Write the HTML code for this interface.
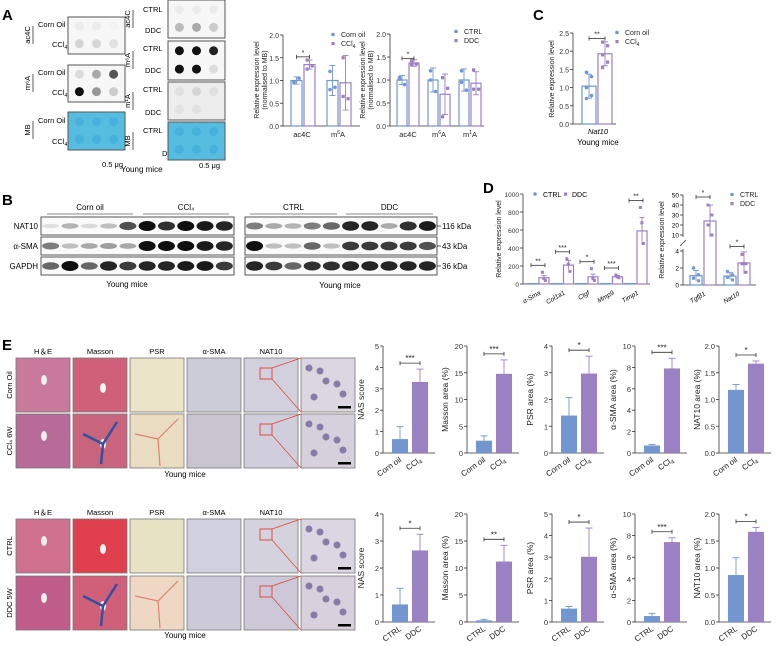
<!DOCTYPE html>
<html><head><meta charset="utf-8"><style>
html,body{margin:0;padding:0;background:#fff;}
svg{display:block;font-family:"Liberation Sans",Arial,sans-serif;}
</style></head><body>
<svg id="fig" width="778" height="646" viewBox="0 0 778 646" xmlns="http://www.w3.org/2000/svg">
<g id="static">
<text x="2" y="20" font-size="15" font-weight="bold">A</text>
<text x="2" y="205" font-size="15" font-weight="bold">B</text>
<text x="533" y="20" font-size="15" font-weight="bold">C</text>
<text x="483" y="193" font-size="15" font-weight="bold">D</text>
<text x="2" y="350" font-size="15" font-weight="bold">E</text>
</g>
<g id="blots"></g>
<g id="wb"></g>
<g id="histo"></g>
<g id="charts"></g>
</svg>
<script>
// ===== Chart data =====
const a1Cats = ["ac4C", "m6A"];
const a1Ctrl = [1.0, 1.0];
const a1CtrlErr = [0.08, 0.33];
const a1Trt = [1.35, 0.95];
const a1TrtErr = [0.1, 0.6];
const a1CtrlPts = [[0.97, 1.05, 0.95], [1.2, 0.85, 0.8]];
const a1TrtPts = [[1.45, 1.32, 1.25], [1.5, 0.6, 0.65]];
const a2Cats = ["ac4C", "m6A", "m1A"];
const a2Ctrl = [1.0, 1.0, 1.0];
const a2CtrlErr = [0.1, 0.26, 0.24];
const a2Trt = [1.37, 0.69, 0.93];
const a2TrtErr = [0.07, 0.44, 0.25];
const a2CtrlPts = [[1.05, 0.9, 1.02], [1.2, 0.75, 1.0], [1.2, 0.78, 0.95]];
const a2TrtPts = [[1.42, 1.35, 1.33], [1.05, 0.82, 0.2], [1.22, 0.8, 0.8]];
const cCtrl = [1.04];
const cCtrlErr = [0.33];
const cTrt = [1.93];
const cTrtErr = [0.33];
const cCtrlPts = [[1.42, 1.3, 1.0, 0.78, 0.7]];
const cTrtPts = [[2.25, 2.15, 1.9, 1.7, 1.55]];
const d1Cats = ["α-Sma", "Col1a1", "Ctgf", "Mmp9", "Timp1"];
const d1Ctrl = [5, 5, 5, 5, 5];
const d1Trt = [70, 210, 80, 80, 590];
const d1TrtErr = [25, 50, 30, 15, 150];
const d1TrtPts = [[130, 60, 40], [280, 220, 140], [170, 60, 40], [100, 80, 70], [850, 680, 450]];
const d1Stars = ["**", "***", "*", "***", "**"];
const d2Cats = ["Tgfβ1", "Nat10"];
const d2Ctrl = [1.1, 1.05];
const d2CtrlErr = [0.6, 0.4];
const d2Trt = [24, 2.6];
const d2TrtErr = [16, 1.3];
const d2CtrlPts = [[2.0, 1.2, 0.8, 0.5], [1.6, 1.2, 0.9, 0.6]];
const d2TrtPts = [[40, 30, 20, 10], [3.6, 2.5, 2.5, 1.5]];
const d2Stars = ["*", "*"];
const eTopCats = ["Corn oil", "CCl4"];
const eTopTitles = ["NAS score", "Masson area (%)", "PSR area (%)", "α-SMA area (%)", "NAT10 area (%)"];
const eTopCtrl = [0.65, 2.3, 1.4, 0.7, 1.18];
const eTopCtrlErr = [0.58, 0.9, 0.67, 0.1, 0.1];
const eTopTrt = [3.32, 14.8, 2.97, 7.9, 1.67];
const eTopTrtErr = [0.6, 2.6, 0.65, 0.95, 0.05];
const eTopMax = [5, 20, 4, 10, 2];
const eTopStep = [1, 5, 1, 2, 0.5];
const eTopStars = ["***", "***", "*", "***", "*"];
const eBotCats = ["CTRL", "DDC"];
const eBotCtrl = [0.65, 0.3, 0.62, 0.55, 0.87];
const eBotCtrlErr = [0.6, 0.2, 0.1, 0.25, 0.32];
const eBotTrt = [2.65, 11.2, 3.02, 7.4, 1.67];
const eBotTrtErr = [0.6, 3.0, 1.33, 0.4, 0.08];
const eBotMax = [4, 20, 5, 10, 2];
const eBotStep = [1, 5, 1, 2, 0.5];
const eBotStars = ["*", "**", "*", "***", "*"];

const BLUE = "#7196d0", PURPLE = "#9c80c4", AX = "#333";
const NS = "http://www.w3.org/2000/svg";
function mk(parent, tag, attrs, text) {
  const e = document.createElementNS(NS, tag);
  for (const k in attrs) e.setAttribute(k, attrs[k]);
  if (text !== undefined) e.textContent = text;
  parent.appendChild(e);
  return e;
}
function fmt(v, step) { return step < 1 ? v.toFixed(1) : String(v); }
const charts = document.getElementById('charts');

function yAxis(g, x, y0, y1, max, step, fs) {
  const sc = v => y0 - (v / max) * (y0 - y1);
  let l = mk(g, 'line', {x1: x, x2: x, y1: y0, y2: y1, stroke: AX, 'stroke-width': 0.8});
  
  
  for (let v = 0; v <= max + 1e-9; v += step) {
    mk(g, 'line', {x1: x - 3, x2: x, y1: sc(v), y2: sc(v), stroke: AX, 'stroke-width': 0.8});
    let t = mk(g, 'text', {x: x - 4, y: sc(v) + 3, 'font-size': fs, 'text-anchor': 'end', fill: '#333'}, fmt(Math.round(v * 100) / 100, step));
    
    
  }
  return sc;
}
function errBar(g, cx, yv, ye, col, hw) {
  mk(g, 'line', {x1: cx, x2: cx, y1: yv, y2: ye, stroke: col, 'stroke-width': 0.9});
  mk(g, 'line', {x1: cx - hw, x2: cx + hw, y1: ye, y2: ye, stroke: col, 'stroke-width': 0.9});
}
function sig(g, x1, x2, y, s, fs) {
  mk(g, 'line', {x1: x1, x2: x2, y1: y, y2: y, stroke: AX, 'stroke-width': 0.8});
  mk(g, 'line', {x1: x1, x2: x1, y1: y - 2, y2: y + 2, stroke: AX, 'stroke-width': 0.8});
  mk(g, 'line', {x1: x2, x2: x2, y1: y - 2, y2: y + 2, stroke: AX, 'stroke-width': 0.8});
  let t = mk(g, 'text', {x: (x1 + x2) / 2, y: y - 2, 'font-size': fs, 'text-anchor': 'middle', fill: '#222'}, s);
  
  
}

function eChart(x0, y0, y1, title, cats, c, ce, t, te, max, step, star, idx, row) {
  const g = mk(charts, 'g', {});
  
  
  const sc = yAxis(g, x0, y0, y1, max, step, 7.5);
  mk(g, 'line', {x1: x0, x2: x0 + 52, y1: y0, y2: y0, stroke: AX, 'stroke-width': 0.8});
  const bx = [x0 + 9, x0 + 29], w = 16;
  const vals = [c, t], errs = [ce, te], cols = [BLUE, PURPLE];
  for (let i = 0; i < 2; i++) {
    let r = mk(g, 'rect', {x: bx[i], y: sc(vals[i]), width: w, height: y0 - sc(vals[i]), fill: cols[i]});
    
    
    errBar(g, bx[i] + w / 2, sc(vals[i]), sc(vals[i] + errs[i]), cols[i], 3.5);
    let lx = bx[i] + w / 2 + 2, ly = y0 + 8;
    let tl = mk(g, 'text', {x: lx, y: ly, 'font-size': 8, 'text-anchor': 'end', transform: 'rotate(-35 ' + lx + ' ' + ly + ')', fill: '#222'});
    
    
    if (cats[i] === 'CCl4') { tl.textContent = 'CCl'; mk(tl, 'tspan', {'font-size': 6, dy: 2}, '4'); }
    else tl.textContent = cats[i];
  }
  const top = sc(t + te);
  sig(g, bx[0] + 8, bx[1] + 8, top - 6, star, 8);
  const tx = x0 - 19, ty = (y0 + y1) / 2;
  let yt = mk(g, 'text', {x: tx, y: ty, 'font-size': 8.5, 'text-anchor': 'middle', transform: 'rotate(-90 ' + tx + ' ' + ty + ')', fill: '#222'}, title);
  
  
}
const eAx = [383, 467, 552, 635, 719];
for (let i = 0; i < 5; i++) {
  eChart(eAx[i], 453, 346, eTopTitles[i], eTopCats, eTopCtrl[i], eTopCtrlErr[i], eTopTrt[i], eTopTrtErr[i], eTopMax[i], eTopStep[i], eTopStars[i], i, 'top');
  eChart(eAx[i], 622, 514, eTopTitles[i], eBotCats, eBotCtrl[i], eBotCtrlErr[i], eBotTrt[i], eBotTrtErr[i], eBotMax[i], eBotStep[i], eBotStars[i], i, 'bottom');
}

function outlineChart(name, x0, y0, y1, max, step, ctrl, ce, trt, te, cp, tp, bw, gsp, off, xEnd, starInfo) {
  const g = mk(charts, 'g', {});
  
  
  const sc = yAxis(g, x0, y0, y1, max, step, 7);
  mk(g, 'line', {x1: x0, x2: xEnd, y1: y0, y2: y0, stroke: AX, 'stroke-width': 0.8});
  for (let i = 0; i < ctrl.length; i++) {
    const bx = x0 + off + i * gsp;
    const sets = [[bx, ctrl[i], ce[i], cp[i], BLUE, 'control'], [bx + bw + 2, trt[i], te[i], tp[i], PURPLE, 'treatment']];
    sets.forEach(s => {
      let r = mk(g, 'rect', {x: s[0], y: sc(s[1]), width: bw, height: y0 - sc(s[1]), fill: 'none', stroke: s[4], 'stroke-width': 1.2});
      
      
      const cx = s[0] + bw / 2;
      errBar(g, cx, sc(s[1] - s[2]), sc(s[1] + s[2]), s[4], 3);
      mk(g, 'line', {x1: cx - 3, x2: cx + 3, y1: sc(s[1] - s[2]), y2: sc(s[1] - s[2]), stroke: s[4], 'stroke-width': 0.9});
      s[3].forEach((p, k) => {
        let d = s[5] === 'control'
          ? mk(g, 'circle', {cx: cx + (k % 2 ? 2.5 : -2.5), cy: sc(p), r: 1.8, fill: s[4]})
          : mk(g, 'rect', {x: cx + (k % 2 ? 1 : -4), y: sc(p) - 1.6, width: 3.2, height: 3.2, fill: s[4]});
        
        
      });
    });
  }
  if (starInfo) sig(g, x0 + off + bw / 2, x0 + off + bw * 1.5 + 2, sc(starInfo[1]), starInfo[0], 7);
  return {g, sc};
}
function legend(g, x, y, l1, l2, sub) {
  let c = mk(g, 'circle', {cx: x, cy: y - 2.5, r: 1.8, fill: BLUE});
  
  
  let t1 = mk(g, 'text', {x: x + 8, y: y, 'font-size': 7, fill: '#222'}, l1);
  
  
  let r = mk(g, 'rect', {x: x - 1.6, y: y + 5, width: 3.2, height: 3.2, fill: PURPLE});
  
  
  let t2 = mk(g, 'text', {x: x + 8, y: y + 9, 'font-size': 7, fill: '#222'}, l2);
  
  
  if (sub) mk(t2, 'tspan', {'font-size': 5, dy: 2}, '4');
}
function yTitle(g, x, y, lines, fs) {
  let t = mk(g, 'text', {x: x, y: y, 'font-size': fs, 'text-anchor': 'middle', transform: 'rotate(-90 ' + x + ' ' + y + ')', fill: '#222'});
  
  
  lines.forEach((ln, i) => mk(t, 'tspan', {x: x, dy: i === 0 ? 0 : fs + 1}, ln));
}
function modLabel(g, x, y, base, sup) {
  let t = mk(g, 'text', {x: x, y: y, 'font-size': 7.5, 'text-anchor': 'middle', fill: '#222'});
  
  
  if (!sup) { t.textContent = base; return; }
  mk(t, 'tspan', {}, 'm');
  mk(t, 'tspan', {'font-size': 5, dy: -3}, sup);
  mk(t, 'tspan', {dy: 3}, 'A');
}
let A1 = outlineChart('a1-chart', 283, 126, 35, 2, 0.5, a1Ctrl, a1CtrlErr, a1Trt, a1TrtErr, a1CtrlPts, a1TrtPts, 11, 36, 8, 360, ['*', 1.52]);
legend(A1.g, 333, 37, 'Corn oil', 'CCl', true);
yTitle(A1.g, 259, 80, ['Relative expression level', '(normalised to MB)'], 7);
modLabel(A1.g, 302, 137, 'ac4C'); modLabel(A1.g, 338, 137, 'm', '6');

let A2 = outlineChart('a2-chart', 390, 126, 34, 2, 0.5, a2Ctrl, a2CtrlErr, a2Trt, a2TrtErr, a2CtrlPts, a2TrtPts, 10, 31, 7, 484, ['*', 1.47]);
legend(A2.g, 456, 34, 'CTRL', 'DDC', false);
yTitle(A2.g, 365, 80, ['Relative expression level', '(normalised to MB)'], 7);
modLabel(A2.g, 408, 137, 'ac4C'); modLabel(A2.g, 439, 137, 'm', '6'); modLabel(A2.g, 470, 137, 'm', '1');

let C = outlineChart('c-chart', 573, 124, 33, 2.5, 0.5, cCtrl, cCtrlErr, cTrt, cTrtErr, cCtrlPts, cTrtPts, 14, 30, 9, 616, ['**', 2.35]);
legend(C.g, 617, 35, 'Corn oil', 'CCl', true);
yTitle(C.g, 554, 79, ['Relative expression level'], 7);
mk(C.g, 'text', {x: 598, y: 134, 'font-size': 7.5, 'text-anchor': 'middle', 'font-style': 'italic'}, 'Nat10');
mk(C.g, 'text', {x: 598, y: 145, 'font-size': 8, 'text-anchor': 'middle'}, 'Young mice');

(function(){
  const g = mk(charts, 'g', {});
  
  
  const x0 = 523, y0 = 284, y1 = 194;
  const sc = yAxis(g, x0, y0, y1, 1000, 200, 6.5);
  mk(g, 'line', {x1: x0, x2: 650, y1: y0, y2: y0, stroke: AX, 'stroke-width': 0.8});
  for (let i = 0; i < d1Cats.length; i++) {
    const bx = x0 + 4 + i * 24.5;
    let r1 = mk(g, 'rect', {x: bx, y: sc(d1Ctrl[i]), width: 10, height: y0 - sc(d1Ctrl[i]), fill: 'none', stroke: BLUE, 'stroke-width': 1.2});
    
    
    const px = bx + 12;
    let r2 = mk(g, 'rect', {x: px, y: sc(d1Trt[i]), width: 10, height: y0 - sc(d1Trt[i]), fill: 'none', stroke: PURPLE, 'stroke-width': 1.2});
    
    
    errBar(g, px + 5, sc(d1Trt[i] - d1TrtErr[i]), sc(d1Trt[i] + d1TrtErr[i]), PURPLE, 2.5);
    d1TrtPts[i].forEach((p, k) => { let d = mk(g, 'rect', {x: px + 3.4 + (k - 1) * 1.5, y: sc(p) - 1.5, width: 3, height: 3, fill: PURPLE});   });
    sig(g, bx + 4, px + 6, sc(Math.max(...d1TrtPts[i])) - 7, d1Stars[i], 7);
    let lx = bx + 14, ly = y0 + 10;
    let t = mk(g, 'text', {x: lx, y: ly, 'font-size': 6.5, 'font-style': 'italic', 'text-anchor': 'end', transform: 'rotate(-30 ' + lx + ' ' + ly + ')'}, d1Cats[i]);
    
    
  }
  let c = mk(g, 'circle', {cx: 535, cy: 194, r: 1.8, fill: BLUE});  
  let t1 = mk(g, 'text', {x: 543, y: 197, 'font-size': 7}, 'CTRL');  
  let r = mk(g, 'rect', {x: 564, y: 192.5, width: 3.2, height: 3.2, fill: PURPLE});  
  let t2 = mk(g, 'text', {x: 572, y: 197, 'font-size': 7}, 'DDC');  
  yTitle(g, 501, 239, ['Relative expression level'], 7);
})();

(function(){
  const g = mk(charts, 'g', {});
  
  
  const x0 = 683, y0 = 285;
  const sc = v => v <= 4 ? y0 - v / 4 * (y0 - 251) : 235 - (v - 10) / 40 * (235 - 195);
  mk(g, 'line', {x1: x0, x2: x0, y1: y0, y2: 249, stroke: AX, 'stroke-width': 0.8});
  mk(g, 'line', {x1: x0, x2: x0, y1: 237, y2: 195, stroke: AX, 'stroke-width': 0.8});
  mk(g, 'line', {x1: x0 - 3, x2: x0 + 3, y1: 246, y2: 240, stroke: AX, 'stroke-width': 0.8});
  [0, 2, 4, 10, 20, 30, 40, 50].forEach(v => {
    mk(g, 'line', {x1: x0 - 3, x2: x0, y1: sc(v), y2: sc(v), stroke: AX, 'stroke-width': 0.8});
    let t = mk(g, 'text', {x: x0 - 4, y: sc(v) + 2.5, 'font-size': 6.5, 'text-anchor': 'end'}, String(v));
    
    
  });
  mk(g, 'line', {x1: x0, x2: 756, y1: y0, y2: y0, stroke: AX, 'stroke-width': 0.8});
  for (let i = 0; i < 2; i++) {
    const bx = x0 + 7 + i * 34;
    let r1 = mk(g, 'rect', {x: bx, y: sc(d2Ctrl[i]), width: 12, height: y0 - sc(d2Ctrl[i]), fill: 'none', stroke: BLUE, 'stroke-width': 1.2});
    
    
    errBar(g, bx + 6, sc(d2Ctrl[i] - d2CtrlErr[i]), sc(d2Ctrl[i] + d2CtrlErr[i]), BLUE, 3);
    d2CtrlPts[i].forEach((p, k) => { let d = mk(g, 'circle', {cx: bx + 6 + (k % 2 ? 2.5 : -2.5), cy: sc(p), r: 1.7, fill: BLUE});   });
    const px = bx + 14;
    let r2 = mk(g, 'rect', {x: px, y: sc(d2Trt[i]), width: 12, height: y0 - sc(d2Trt[i]), fill: 'none', stroke: PURPLE, 'stroke-width': 1.2});
    
    
    errBar(g, px + 6, sc(Math.max(d2Trt[i] - d2TrtErr[i], 0)), sc(d2Trt[i] + d2TrtErr[i]), PURPLE, 3);
    d2TrtPts[i].forEach((p, k) => { let d = mk(g, 'rect', {x: px + 4.5 + (k % 2 ? 2 : -2), y: sc(p) - 1.5, width: 3, height: 3, fill: PURPLE});   });
    sig(g, bx + 6, px + 6, sc(Math.max(...d2TrtPts[i])) - 8, d2Stars[i], 7);
    let lx = bx + 16, ly = y0 + 10;
    let t = mk(g, 'text', {x: lx, y: ly, 'font-size': 6.5, 'font-style': 'italic', 'text-anchor': 'end', transform: 'rotate(-30 ' + lx + ' ' + ly + ')'}, d2Cats[i]);
    
    
  }
  legend(g, 732, 197, 'CTRL', 'DDC', false);
  yTitle(g, 664, 240, ['Relative expression level'], 7);
})();

(function(){
  const g = document.getElementById('blots');
  function box(x, y, w, h, bg, dots, name) {
    let b = mk(g, 'rect', {x: x, y: y, width: w, height: h, fill: bg, stroke: '#555', 'stroke-width': 1});
    
    
    const xs = [x + w * 0.2, x + w * 0.5, x + w * 0.8], ys = [y + h * 0.25, y + h * 0.72];
    dots.forEach((row, r) => row.forEach((c, k) => { if (c) mk(g, 'circle', {cx: xs[k], cy: ys[r], r: 4.5, fill: c}); }));
  }
  const cyan = '#56bde0', cdot = '#48b0dc';
  box(68, 17, 57, 37, '#f7f7f7', [['#ececec','#ececec','#f2f2f2'],['#d6d6d6','#d6d6d6','#e2e2e2']], 'blot-ac4c-ccl4');
  box(68, 65, 57, 37, '#f7f7f7', [['#dcdcdc','#aaa','#555'],['#111','#999','#ccc']], 'blot-m6a-ccl4');
  box(68, 112, 57, 38, cyan, [[cdot,cdot,cdot],[cdot,cdot,cdot]], 'blot-mb-ccl4');
  box(168, 0, 57, 38, '#f7f7f7', [['#ececec','#ececec','#ececec'],['#bbb','#aaa','#ccc']], 'blot-ac4c-ddc');
  box(168, 41, 57, 39, '#f7f7f7', [['#111','#111','#222'],['#111','#111','#ddd']], 'blot-m6a-ddc');
  box(168, 82, 57, 38, '#ededed', [['#e0e0e0','#d4d4d4','#e0e0e0'],['#e2e2e2','#e2e2e2','']], 'blot-m1a-ddc');
  box(168, 122, 57, 38, cyan, [[cdot,cdot,cdot],[cdot,cdot,cdot]], 'blot-mb-ddc');
  const lab = [[38,27,'Corn Oil'],[52,47,'CCl'],[38,75,'Corn Oil'],[52,95,'CCl'],[38,123,'Corn Oil'],[52,144,'CCl'],
    [143,12,'CTRL'],[145,33,'DDC'],[143,51,'CTRL'],[145,73,'DDC'],[143,92,'CTRL'],[145,115,'DDC'],[143,133,'CTRL'],[162,156,'D']];
  lab.forEach(l => { let t = mk(g, 'text', {x: l[0], y: l[1], 'font-size': 7.5}, l[2]);   if (l[2]==='CCl') mk(t,'tspan',{'font-size':5,dy:2},'4'); });
  const side = [[30,35,'ac4C'],[30,83,'m⁶A'],[30,130,'MB'],[130,19,'ac4C'],[130,60,'m⁶A'],[130,101,'m¹A'],[130,141,'MB']];
  side.forEach(s => { let t = mk(g, 'text', {x: s[0], y: s[1], 'font-size': 7.5, 'text-anchor': 'middle', transform: 'rotate(-90 ' + s[0] + ' ' + s[1] + ')'}, s[2]);   mk(g,'line',{x1:s[0]+3,x2:s[0]+3,y1:s[1]-9,y2:s[1]+9,stroke:'#333','stroke-width':0.8}); });
  mk(g, 'text', {x: 102, y: 167, 'font-size': 7.5}, '0.5 μg');
  mk(g, 'text', {x: 199, y: 168, 'font-size': 7.5}, '0.5 μg');
  mk(g, 'text', {x: 121, y: 172, 'font-size': 8}, 'Young mice');
})();

(function(){
  const g = document.getElementById('wb');
  const rows = [217, 237, 257], rh = 18;
  const left = [[0.05,0.25,0.08,0.2,0.7,1,0.85,1,0.95,0.9],[0.5,0.2,0.3,0.35,0.3,1,1,1,0.95,0.9],[0.6,1,0.6,0.9,0.8,0.9,0.9,0.95,0.95,0.8]];
  const right = [[0.5,0.3,0.25,0.5,0.6,0.9,0.9,0.3,0.85,0.95],[1,0.2,0.2,0.6,0.2,0.8,0.8,0.8,0.8,0.7],[0.9,0.8,0.6,0.85,0.85,0.9,0.9,0.9,0.9,0.9]];
  function blot(x0, w, data, name) {
    data.forEach((row, r) => {
      let b = mk(g, 'rect', {x: x0, y: rows[r], width: w, height: rh, fill: '#fafafa', stroke: '#444', 'stroke-width': 0.9});
      
      
      row.forEach((v, k) => {
        const cx = x0 + w * (k + 0.5) / 10;
        const c = Math.round(235 - v * 220);
        mk(g, 'ellipse', {cx: cx, cy: rows[r] + rh / 2, rx: 8.5, ry: 2 + v * 3, fill: 'rgb(' + c + ',' + c + ',' + c + ')'});
      });
    });
  }
  blot(41, 193, left, 'wb-left');
  blot(245, 192, right, 'wb-right');
  [['NAT10',226],['α-SMA',246],['GAPDH',266]].forEach(l => { let t = mk(g,'text',{x:38,y:l[1]+3,'font-size':8,'text-anchor':'end'},l[0]);   });
  [['116 kDa',226],['43 kDa',246],['36 kDa',266]].forEach(l => { mk(g,'line',{x1:437,x2:441,y1:l[1],y2:l[1],stroke:'#333','stroke-width':0.8}); let t = mk(g,'text',{x:442,y:l[1]+3,'font-size':8},l[0]);   });
  [[47,133,'Corn oil'],[143,229,'CCl₄'],[250,337,'CTRL'],[346,433,'DDC']].forEach(s => { mk(g,'line',{x1:s[0],x2:s[1],y1:214,y2:214,stroke:'#888','stroke-width':1}); let t = mk(g,'text',{x:(s[0]+s[1])/2,y:210,'font-size':8,'text-anchor':'middle'},s[2]);   });
  mk(g,'text',{x:127,y:287,'font-size':8,'text-anchor':'middle'},'Young mice');
  mk(g,'text',{x:340,y:288,'font-size':8,'text-anchor':'middle'},'Young mice');
})();

(function(){
  const g = document.getElementById('histo');
  const cols = [16, 73, 130, 187, 244, 301], w = 54;
  const titles = ['H＆E', 'Masson', 'PSR', 'α-SMA', 'NAT10'];
  const colorsTop = [['#c97a9c','#d0607a','#ece4c8','#cccbd8','#d2d0dc','#dcd6e0'],['#b86a98','#c8647c','#eadcc0','#c8c4d0','#d0cedc','#d6d0dc']];
  const colorsBot = [['#d0708f','#e0404e','#e8e2c4','#d0d0de','#d4d2dc','#dcd6e2'],['#c05c8a','#d0607a','#eed8c4','#cccad8','#ccc8d8','#d8d0dc']];
  function block(y1, y2, yt, yYoung, colors, rowLabels, pre) {
    titles.forEach((t, i) => { let e = mk(g,'text',{x:cols[i]+w/2,y:yt,'font-size':7.5,'text-anchor':'middle'},t);   });
    [y1, y2].forEach((y, r) => {
      cols.forEach((x, i) => {
        let im = mk(g,'rect',{x:x,y:y,width:w,height:54,fill:colors[r][i],stroke:'#777','stroke-width':0.8});
        
        
      });
      mk(g,'ellipse',{cx:cols[0]+28,cy:y+22,rx:3,ry:5,fill:'#eee'});
      mk(g,'ellipse',{cx:cols[1]+30,cy:y+30,rx:3,ry:5,fill:'#f4f4f4'});
      if (r === 1) {
        mk(g,'path',{d:'M'+(cols[1]+10)+' '+(y+20)+' L'+(cols[1]+30)+' '+(y+30)+' L'+(cols[1]+44)+' '+(y+8)+' M'+(cols[1]+30)+' '+(y+30)+' L'+(cols[1]+28)+' '+(y+50),stroke:'#3050a0','stroke-width':2.5,fill:'none'});
        mk(g,'path',{d:'M'+(cols[2]+5)+' '+(y+20)+' L'+(cols[2]+28)+' '+(y+25)+' L'+(cols[2]+48)+' '+(y+5)+' M'+(cols[2]+28)+' '+(y+25)+' L'+(cols[2]+30)+' '+(y+52),stroke:'#e08070','stroke-width':1.2,fill:'none'});
      }
      mk(g,'rect',{x:cols[4]+16,y:y+10,width:12,height:11,fill:'none',stroke:'#e04030','stroke-width':0.9});
      mk(g,'line',{x1:cols[4]+28,y1:y+10,x2:cols[5],y2:y,stroke:'#e04030','stroke-width':0.7});
      mk(g,'line',{x1:cols[4]+28,y1:y+21,x2:cols[5],y2:y+54,stroke:'#e04030','stroke-width':0.7});
      for (let k = 0; k < 6; k++) mk(g,'circle',{cx:cols[5]+8+((k*17)%40),cy:y+10+((k*13)%36),r:3.5,fill:'#8a7aa8'});
      mk(g,'rect',{x:cols[5]+37,y:y+48,width:13,height:2.5,fill:'#000'});
      let tx = 12, ty = y + 27;
      let lab = mk(g,'text',{x:tx,y:ty,'font-size':7.5,'text-anchor':'middle',transform:'rotate(-90 '+tx+' '+ty+')'},rowLabels[r]);
      
      
    });
    mk(g,'text',{x:185,y:yYoung,'font-size':8,'text-anchor':'middle'},'Young mice');
  }
  block(358, 414, 354, 477, colorsTop, ['Corn Oil', 'CCl₄ 6W'], 'e-top');
  block(519, 576, 515, 638, colorsBot, ['CTRL', 'DDC  5W'], 'e-bottom');
})();
</script>
</body></html>
